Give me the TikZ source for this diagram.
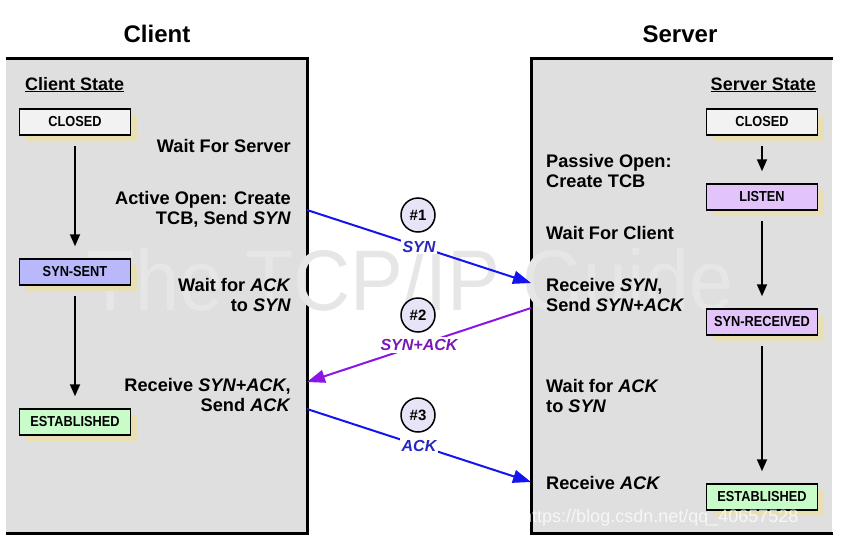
\documentclass[tikz,border=0pt]{standalone}
\usepackage{fontspec}
\setmainfont{Liberation Sans}
\newfontfamily\condfont[FakeStretch=0.88]{Liberation Sans}
\usetikzlibrary{arrows.meta,shadows}
\definecolor{panelgray}{HTML}{DFDFDF}
\definecolor{shadowbeige}{HTML}{E8E0B4}
\definecolor{closedfill}{HTML}{F2F2F2}
\definecolor{sentfill}{HTML}{B8B8FA}
\definecolor{listenfill}{HTML}{E2C4FA}
\definecolor{estfill}{HTML}{C8FCC8}
\definecolor{msgblue}{HTML}{1414F0}
\definecolor{lblblue}{HTML}{2626C0}
\definecolor{msgpurple}{HTML}{8C14E6}
\definecolor{lblpurple}{HTML}{7A18B4}
\definecolor{circfill}{HTML}{E6E4F6}
\definecolor{wmark}{HTML}{E6E6E6}
\begin{document}
\begin{tikzpicture}[x=1pt,y=-1pt,
  stbox/.style={draw=black, line width=1.5pt, minimum width=111pt, minimum height=26pt,
    inner sep=0pt, font=\condfont\fontsize{14.5}{14.5}\selectfont\bfseries,
    drop shadow={shadow xshift=6pt, shadow yshift=-6pt, fill=shadowbeige, opacity=1}},
  lbl/.style={font=\fontsize{18.2}{20}\selectfont\bfseries, inner sep=0pt},
  lblr/.style={lbl, align=right, anchor=base east},
  lbll/.style={lbl, align=left, anchor=base west},
  title/.style={font=\fontsize{24}{24}\selectfont\bfseries, anchor=base, inner sep=0pt},
  sttitle/.style={font=\fontsize{18}{20}\selectfont\bfseries, inner sep=0pt},
  trans/.style={line width=1.8pt, -{Triangle[length=12pt,width=10pt]}, shorten <=10pt, shorten >=12pt},
  msg/.style={line width=2pt, -{Triangle[length=18pt,width=13pt]}},
  msglbl/.style={fill=white, inner sep=2pt, font=\fontsize{16}{16}\selectfont\bfseries\itshape},
  numc/.style={circle, draw=black, line width=1.5pt, fill=circfill, minimum size=34pt, inner sep=0pt,
    font=\fontsize{15}{15}\selectfont\bfseries}
]
\useasboundingbox (0,0) rectangle (859,546);
% panels
\fill[panelgray] (6,58) rectangle (307,533);
\draw[line width=3pt] (6,58) -- (307,58) -- (307,533) -- (6,533);
\fill[panelgray] (531,58) rectangle (832,533);
\draw[line width=3pt] (833,58) -- (531,58) -- (531,533) -- (833,533);
% watermark
\node[text=wmark, font=\fontsize{86}{86}\selectfont, xscale=0.92, anchor=base, inner sep=0pt] (wm) at (410,310) {The TCP/IP Guide};
% titles
\node[title] (ctitle) at (157,42) {Client};
\node[title] (stitle) at (680,42) {Server};
\node[sttitle, anchor=base west] (cst) at (25,90) {\underline{Client State}};
\node[sttitle, anchor=base east] (sst) at (816,90) {\underline{Server State}};
% client states
\node[stbox, fill=closedfill] (cclosed) at (75,122) {CLOSED};
\node[stbox, fill=sentfill] (csent) at (75,272) {SYN-SENT};
\node[stbox, fill=estfill] (cest) at (75,422) {ESTABLISHED};
\draw[trans] (cclosed) -- (csent);
\draw[trans] (csent) -- (cest);
% server states
\node[stbox, fill=closedfill] (sclosed) at (762,122) {CLOSED};
\node[stbox, fill=listenfill] (slisten) at (762,197) {LISTEN};
\node[stbox, fill=listenfill] (srcvd) at (762,322) {SYN-RECEIVED};
\node[stbox, fill=estfill] (sest) at (762,497) {ESTABLISHED};
\draw[trans] (sclosed) -- (slisten);
\draw[trans] (slisten) -- (srcvd);
\draw[trans] (srcvd) -- (sest);
% client labels (base = last line)
\node[lblr] (cwait) at (291,152) {Wait For Server};
\node[lblr] (cactive) at (291,224) {Active Open: Create\\TCB, Send \textit{SYN}};
\node[lblr] (cwack) at (291,311) {Wait for \textit{ACK}\\to \textit{SYN}};
\node[lblr] (crecv) at (291,411) {Receive \textit{SYN+ACK},\\Send \textit{ACK}};
% server labels
\node[lbll] (spassive) at (546,187) {Passive Open:\\Create TCB};
\node[lbll] (swait) at (546,239) {Wait For Client};
\node[lbll] (srecv) at (546,311) {Receive \textit{SYN},\\Send \textit{SYN+ACK}};
\node[lbll] (swack) at (546,412) {Wait for \textit{ACK}\\to \textit{SYN}};
\node[lbll] (srack) at (546,489) {Receive \textit{ACK}};
% messages
\coordinate (m1s) at (307,210); \coordinate (m1e) at (531,283);
\coordinate (m2s) at (531,308); \coordinate (m2e) at (307,382);
\coordinate (m3s) at (307,409); \coordinate (m3e) at (531,482);
\draw[msg, msgblue] (m1s) -- (m1e) node[midway, msglbl, text=lblblue] (lsyn) {SYN};
\draw[msg, msgpurple] (m2s) -- (m2e) node[midway, msglbl, text=lblpurple] (lsynack) {SYN+ACK};
\draw[msg, msgblue] (m3s) -- (m3e) node[midway, msglbl, text=lblblue] (lack) {ACK};
\node[numc] (n1) at (418,215) {\#1};
\node[numc] (n2) at (418,315) {\#2};
\node[numc] (n3) at (418,415) {\#3};
% csdn watermark
\node[text=white, opacity=0.75, font=\fontsize{18}{18}\selectfont, anchor=base west, inner sep=0pt] (csdn) at (522,522) {https://blog.csdn.net/qq\_40657528};
\end{tikzpicture}
\end{document}
